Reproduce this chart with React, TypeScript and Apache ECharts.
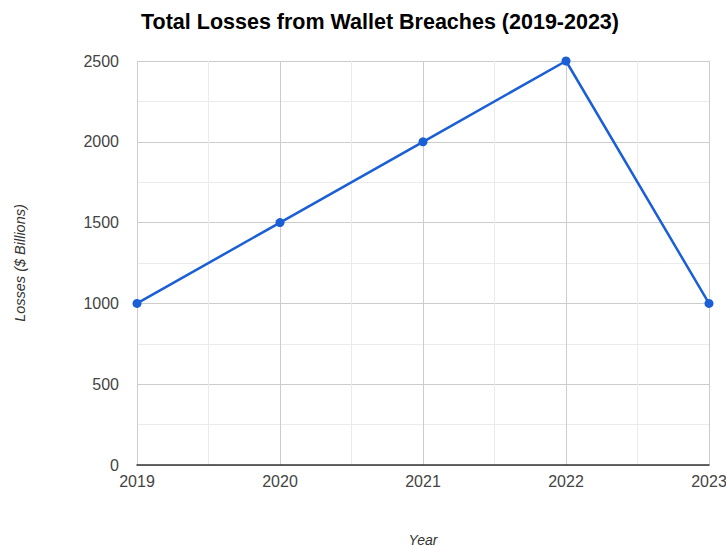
import React, { useEffect, useRef } from "react";
import * as echarts from "echarts";

const years = [2019, 2020, 2021, 2022, 2023];
const losses = [1000, 1500, 2000, 2500, 1000];

const FONT = "Liberation Sans, Arial, sans-serif";

export default function App() {
  const ref = useRef<HTMLDivElement>(null);
  useEffect(() => {
    const chart = echarts.init(ref.current!, undefined, { renderer: "svg" });
    chart.setOption({
      animation: false,
      backgroundColor: "#ffffff",
      title: {
        text: "Total Losses from Wallet Breaches (2019-2023)",
        left: 375,
        top: 6,
        textAlign: "center",
        textStyle: { fontFamily: FONT, fontWeight: "bold", fontSize: 21.5, color: "#000" },
      },
      grid: { left: 137, right: 17, top: 61, bottom: 82, containLabel: false, outerBoundsMode: "none" },
      xAxis: {
        type: "value",
        min: 2019,
        max: 2023,
        interval: 1,
        name: "Year",
        nameLocation: "middle",
        nameGap: 68,
        nameTextStyle: { fontFamily: FONT, fontStyle: "italic", fontSize: 14, color: "#333" },
        axisLine: { show: true, lineStyle: { color: "#333", width: 1.5 } },
        axisTick: { show: false },
        axisLabel: {
          fontFamily: FONT,
          fontSize: 16,
          color: "#444",
          margin: 8,
          formatter: (v: number) => String(v),
        },
        splitLine: { show: true, lineStyle: { color: "#cccccc", width: 1 } },
        minorTick: { show: false, splitNumber: 2 },
        minorSplitLine: { show: true, lineStyle: { color: "#ebebeb", width: 1 } },
      },
      yAxis: {
        type: "value",
        min: 0,
        max: 2500,
        interval: 500,
        name: "Losses ($ Billions)",
        nameLocation: "middle",
        nameGap: 110,
        nameTextStyle: { fontFamily: FONT, fontStyle: "italic", fontSize: 14.5, color: "#333" },
        axisLine: { show: false },
        axisTick: { show: false },
        axisLabel: {
          fontFamily: FONT,
          fontSize: 16,
          color: "#444",
          margin: 18,
          formatter: (v: number) => String(v),
        },
        splitLine: { show: true, lineStyle: { color: "#cccccc", width: 1 } },
        minorTick: { show: false, splitNumber: 2 },
        minorSplitLine: { show: true, lineStyle: { color: "#ebebeb", width: 1 } },
      },
      series: [
        {
          type: "line",
          data: years.map((y, i) => [y, losses[i]]),
          lineStyle: { color: "#1a5fd6", width: 2.5 },
          itemStyle: { color: "#1a5fd6" },
          symbol: "circle",
          symbolSize: 9,
          showSymbol: true,
        },
      ],
    });
    return () => chart.dispose();
  }, []);
  return <div ref={ref} style={{ width: 726, height: 547, position: "absolute", left: 0, top: 0 }} />;
}
